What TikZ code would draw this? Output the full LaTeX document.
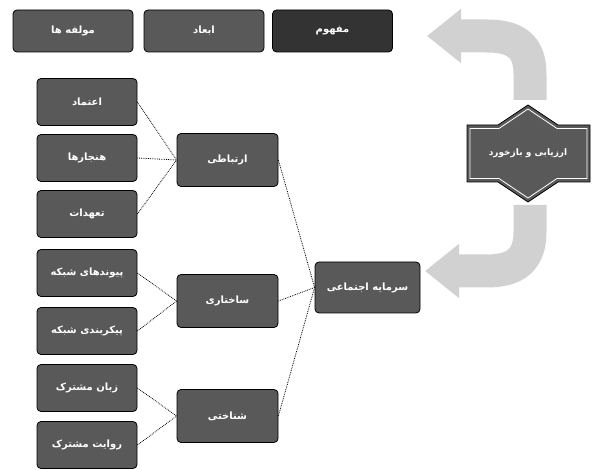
\documentclass[tikz,border=0pt]{standalone}
\usepackage{fontspec}
\newfontfamily\fafont[Script=Arabic]{DejaVu Sans}
\TeXXeTstate=1
\usetikzlibrary{arrows.meta}
\newcommand{\fa}[1]{{\fafont\bfseries\beginR #1\endR}}
\begin{document}
\begin{tikzpicture}[x=1pt,y=-1pt,
  box/.style={draw=black, fill=black!65, text=white, rounded corners=4pt,
    minimum width=100pt, minimum height=47pt, inner sep=2pt,
    font=\fontsize{10}{12}\selectfont, line width=0.8pt},
  topbox/.style={box, minimum width=120pt, minimum height=42pt},
  midbox/.style={box, minimum width=101pt, minimum height=53pt},
  conn/.style={densely dotted, line width=0.8pt, black},
  band/.style={line width=33pt, draw=black!18, -{Triangle[length=34pt,width=52pt]}},
  hexfill/.style={fill=black!65, draw=black, line width=0.8pt},
  hexline/.style={draw=white, line width=0.8pt}
]
\useasboundingbox (0,0) rectangle (592,470);

% curved arrows on the right
\coordinate (upTail) at (530,100);
\coordinate (upTip) at (427,36);
\coordinate (loTail) at (530,205);
\coordinate (loTip) at (425,271);
\draw[band] (upTail) -- (530,74) .. controls (530,46) and (515,36) .. (487,36) -- (upTip);
\draw[band] (loTail) -- (530,232) .. controls (530,260) and (515,271) .. (487,271) -- (loTip);

% hexagon-like decision shape
\filldraw[hexfill] (528,105) -- (558,125) -- (590,125) -- (590,182) -- (558,182) -- (528,202)
  -- (498,182) -- (467,182) -- (467,125) -- (498,125) -- cycle;
\draw[hexline] (528,109) -- (557,128.5) -- (587,128.5) -- (587,178.5) -- (557,178.5) -- (528,198)
  -- (499,178.5) -- (470,178.5) -- (470,128.5) -- (499,128.5) -- cycle;
\node[text=white, font=\fontsize{9}{11}\selectfont] (loop) at (528,153) {\fa{ارزیابی و بازخورد}};

% top row
\node[topbox] (t1) at (73,31) {\fa{مولفه ها}};
\node[topbox] (t2) at (204,31) {\fa{ابعاد}};
\node[topbox, fill=black!80] (t3) at (332.5,31) {\fa{مفهوم}};

% left column
\node[box] (l1) at (87,102) {\fa{اعتماد}};
\node[box] (l2) at (87,158) {\fa{هنجارها}};
\node[box] (l3) at (87,214) {\fa{تعهدات}};
\node[box] (l4) at (87,273) {\fa{پیوندهای شبکه}};
\node[box] (l5) at (87,331) {\fa{پیکربندی شبکه}};
\node[box] (l6) at (87,388) {\fa{زبان مشترک}};
\node[box] (l7) at (87,445) {\fa{روایت مشترک}};

% middle column
\node[midbox] (m1) at (227.5,160) {\fa{ارتباطی}};
\node[midbox] (m2) at (227.5,301) {\fa{ساختاری}};
\node[midbox] (m3) at (227.5,416) {\fa{شناختی}};

% right box
\node[box, minimum width=105pt, minimum height=51pt] (r) at (367.5,287.5) {\fa{سرمایه اجتماعی}};

% connectors
\draw[conn] (l1.east) -- (m1.west);
\draw[conn] (l2.east) -- (m1.west);
\draw[conn] (l3.east) -- (m1.west);
\draw[conn] (l4.east) -- (m2.west);
\draw[conn] (l5.east) -- (m2.west);
\draw[conn] (l6.east) -- (m3.west);
\draw[conn] (l7.east) -- (m3.west);
\draw[conn] (m1.east) -- (r.west);
\draw[conn] (m2.east) -- (r.west);
\draw[conn] (m3.east) -- (r.west);
\end{tikzpicture}
\end{document}
